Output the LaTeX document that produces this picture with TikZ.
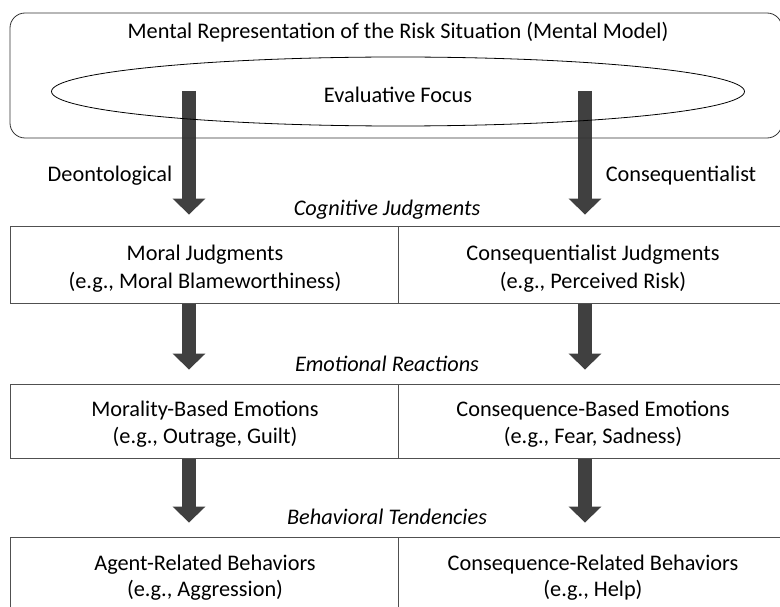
\documentclass[tikz,border=0pt]{standalone}
\usepackage{fontspec}
\setmainfont{Carlito}
\usetikzlibrary{arrows.meta,shapes.geometric,backgrounds}
\definecolor{arrowgray}{HTML}{404040}
\definecolor{framegray}{HTML}{505050}
\begin{document}
\begin{tikzpicture}[x=1pt,y=-1pt,
  txt/.style={font=\fontsize{22.3}{26}\selectfont, inner sep=0pt, anchor=base},
  itxt/.style={txt, font=\fontsize{22.3}{26}\selectfont\itshape},
  cell/.style={draw=framegray, line width=0.9pt, inner sep=0pt},
  bigarrow/.style={draw=arrowgray, line width=14pt, line cap=butt,
    -{Triangle[width=32pt,length=16pt]}}]
\useasboundingbox (0,0) rectangle (780,607);
\clip (0,0) rectangle (780,607);
% top frame
\node[draw=black!80, line width=0.8pt, rounded corners=15pt, minimum width=772pt, minimum height=125pt, inner sep=0pt] (mm) at (396,75.5) {};
\node[txt] (title) at (398,39) {Mental Representation of the Risk Situation (Mental Model)};
\node[ellipse, draw=black, line width=0.8pt, minimum width=693pt, minimum height=69pt, inner sep=0pt] (ef) at (398,91.5) {};
\node[txt] (eftext) at (398,103) {Evaluative Focus};
\node[txt] (deon) at (110,182) {Deontological};
\node[txt] (cons) at (681,182) {Consequentialist};
% row labels
\node[itxt] (cj) at (387,216) {Cognitive Judgments};
\node[itxt] (er) at (387,371) {Emotional Reactions};
\node[itxt] (bt) at (387,524) {Behavioral Tendencies};
% cells
\node[cell, minimum width=388pt, minimum height=77pt] (r1l) at (204,264.5) {};
\node[cell, minimum width=392pt, minimum height=77pt] (r1r) at (594,264.5) {};
\node[cell, minimum width=388pt, minimum height=74pt] (r2l) at (204,421) {};
\node[cell, minimum width=392pt, minimum height=74pt] (r2r) at (594,421) {};
\node[cell, minimum width=388pt, minimum height=83pt] (r3l) at (204,578.5) {};
\node[cell, minimum width=392pt, minimum height=83pt] (r3r) at (594,578.5) {};
% cell texts
\node[txt] (t1la) at (205,261) {Moral Judgments};
\node[txt] (t1lb) at (205,288) {(e.g., Moral Blameworthiness)};
\node[txt] (t1ra) at (593,261) {Consequentialist Judgments};
\node[txt] (t1rb) at (593,288) {(e.g., Perceived Risk)};
\node[txt] (t2la) at (205,416) {Morality-Based Emotions};
\node[txt] (t2lb) at (205,443) {(e.g., Outrage, Guilt)};
\node[txt] (t2ra) at (593,416) {Consequence-Based Emotions};
\node[txt] (t2rb) at (593,443) {(e.g., Fear, Sadness)};
\node[txt] (t3la) at (205,570) {Agent-Related Behaviors};
\node[txt] (t3lb) at (205,596) {(e.g., Aggression)};
\node[txt] (t3ra) at (593,570) {Consequence-Related Behaviors};
\node[txt] (t3rb) at (593,596) {(e.g., Help)};
% arrow start points
\coordinate (dl) at (189,91);
\coordinate (cr) at (585,91);
\begin{scope}[on background layer]
\draw[bigarrow, shorten >=11pt] (dl) -- (dl |- r1l.north);
\draw[bigarrow, shorten >=11pt] (cr) -- (cr |- r1r.north);
\draw[bigarrow, shorten >=14pt] (dl |- r1l.south) -- (dl |- r2l.north);
\draw[bigarrow, shorten >=14pt] (cr |- r1r.south) -- (cr |- r2r.north);
\draw[bigarrow, shorten >=14pt] (dl |- r2l.south) -- (dl |- r3l.north);
\draw[bigarrow, shorten >=14pt] (cr |- r2r.south) -- (cr |- r3r.north);
\end{scope}
\end{tikzpicture}
\end{document}
